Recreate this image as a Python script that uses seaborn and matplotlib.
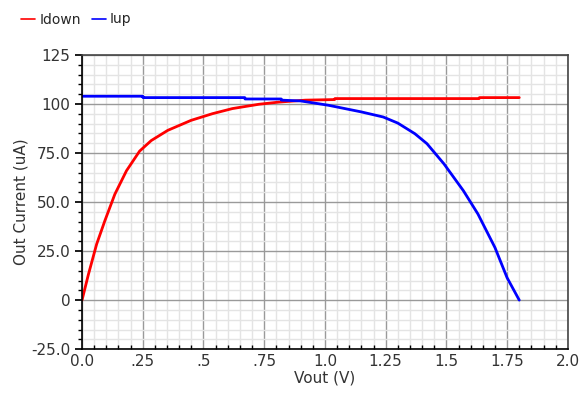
import matplotlib
matplotlib.use("Agg")
import matplotlib.pyplot as plt
import seaborn as sns
import pandas as pd
import numpy as np
from matplotlib.ticker import MultipleLocator, FixedLocator

# Data
v_down = [0.0, 0.026, 0.06, 0.094, 0.135, 0.183, 0.237, 0.285, 0.353, 0.449, 0.537,
          0.619, 0.728, 0.81, 0.919, 1.04, 1.041, 1.635, 1.636, 1.8]
i_down = [0.0, 13.0, 28.5, 40.5, 54.0, 66.0, 76.0, 81.4, 86.6, 91.7, 95.1,
          97.7, 99.9, 101.0, 102.0, 102.3, 102.8, 102.8, 103.3, 103.3]

v_up = [0.0, 0.25, 0.251, 0.67, 0.671, 0.82, 0.821, 0.9, 1.014, 1.15, 1.24, 1.30,
        1.37, 1.42, 1.49, 1.57, 1.63, 1.70, 1.75, 1.8]
i_up = [104.0, 104.0, 103.3, 103.3, 102.6, 102.6, 102.0, 101.6, 99.4, 96.0, 93.4, 90.3,
        84.9, 79.8, 69.5, 55.8, 43.9, 26.8, 11.4, 0.0]

x_ticks = [0.0, 0.25, 0.5, 0.75, 1.0, 1.25, 1.5, 1.75, 2.0]
x_labels = ["0.0", ".25", ".5", ".75", "1.0", "1.25", "1.5", "1.75", "2.0"]
y_ticks = [-25, 0, 25, 50, 75, 100, 125]
y_labels = ["-25.0", "0", "25.0", "50.0", "75.0", "100", "125"]

df = pd.concat([
    pd.DataFrame({"Vout": v_down, "I": i_down, "series": "Idown"}),
    pd.DataFrame({"Vout": v_up, "I": i_up, "series": "Iup"}),
])

sns.set_theme(style="white")
plt.rcParams["font.family"] = ["DejaVu Sans"]

fig = plt.figure(figsize=(5.86, 3.99), dpi=100)
ax = fig.add_axes([0.14, 0.125, 0.829, 0.737])

sns.lineplot(data=df, x="Vout", y="I", hue="series", palette={"Idown": "#ff0000", "Iup": "#0000ff"},
             linewidth=2, ax=ax, legend=False, sort=False, estimator=None)

ax.set_xlim(0, 2.0)
ax.set_ylim(-25, 125)
ax.xaxis.set_major_locator(FixedLocator(x_ticks))
ax.set_xticklabels(x_labels)
ax.yaxis.set_major_locator(FixedLocator(y_ticks))
ax.set_yticklabels(y_labels)
ax.xaxis.set_minor_locator(MultipleLocator(0.05))
ax.yaxis.set_minor_locator(MultipleLocator(5))

ax.grid(which="minor", color="#e4e4e4", linewidth=1.0)
ax.grid(which="major", color="#9a9a9a", linewidth=1.0)
ax.set_axisbelow(True)

ax.tick_params(axis="x", which="both", direction="in", bottom=True, colors="black",
               labelcolor="#333333", labelsize=11)
ax.tick_params(axis="x", which="major", length=0)
ax.tick_params(axis="x", which="minor", length=3)
ax.tick_params(axis="y", which="both", direction="out", left=True, colors="black",
               labelcolor="#333333", labelsize=11)
ax.tick_params(axis="y", which="major", length=5)
ax.tick_params(axis="y", which="minor", length=3)

for s in ["bottom", "left"]:
    ax.spines[s].set_color("black")
    ax.spines[s].set_linewidth(1.2)
for s in ["top", "right"]:
    ax.spines[s].set_color("#444444")
    ax.spines[s].set_linewidth(1.2)

ax.set_xlabel("Vout (V)", fontsize=11, color="#333333", labelpad=1)
ax.set_ylabel("Out Current (uA)", fontsize=11, color="#333333", labelpad=2)

from matplotlib.lines import Line2D
handles = [Line2D([], [], color="#ff0000", linewidth=1.2), Line2D([], [], color="#0000ff", linewidth=1.2)]
fig.legend(handles, ["Idown", "Iup"], loc="upper left", bbox_to_anchor=(0.015, 1.0), ncol=2,
           frameon=False, handlelength=1.0, handletextpad=0.3, columnspacing=0.8,
           prop={"size": 10})

fig.savefig("out.png", dpi=100)
